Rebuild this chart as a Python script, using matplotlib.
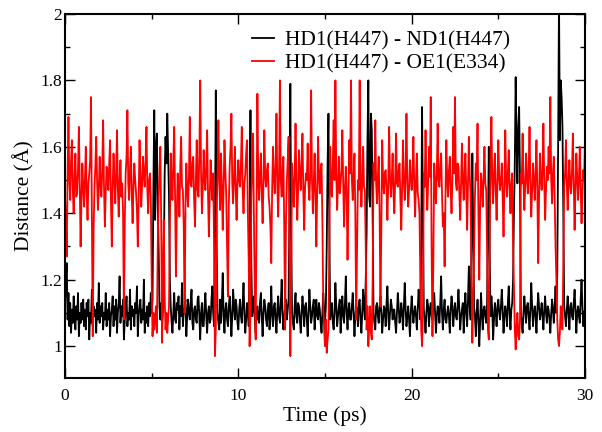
import numpy as np
import matplotlib
matplotlib.use('Agg')
import matplotlib.pyplot as plt
from matplotlib.ticker import MultipleLocator, FuncFormatter

plt.rcParams['font.family'] = ['Liberation Serif', 'DejaVu Serif']
plt.rcParams['path.simplify'] = False  # keep every zigzag, the traces are dense

# one sample every 0.05 ps, each row below is 1 ps
t_step = 0.05

# HD1(H447) - ND1(H447)
nd1 = [
    1.12, 1.20, 1.25, 1.08, 1.16, 1.06, 1.13, 1.04, 1.11, 1.07, 1.15, 1.09, 1.05, 1.12, 1.08, 1.16, 1.03, 1.10, 1.07, 1.13,
    1.08, 1.14, 1.06, 1.11, 1.05, 1.13, 1.09, 1.14, 1.02, 1.10, 1.07, 1.17, 1.06, 1.12, 1.09, 1.11, 1.04, 1.13, 1.08, 1.19,
    1.07, 1.12, 1.09, 1.13, 1.05, 1.10, 1.08, 1.16, 1.06, 1.11, 1.08, 1.13, 1.03, 1.09, 1.11, 1.15, 1.06, 1.12, 1.08, 1.14,
    1.04, 1.10, 1.13, 1.21, 1.07, 1.12, 1.09, 1.14, 1.02, 1.08, 1.11, 1.15, 1.06, 1.10, 1.08, 1.17, 1.05, 1.12, 1.09, 1.11,
    1.06, 1.13, 1.10, 1.18, 1.03, 1.09, 1.12, 1.14, 1.07, 1.11, 1.08, 1.20, 1.04, 1.10, 1.07, 1.12, 1.06, 1.13, 1.09, 1.16,
    1.10, 1.14, 1.48, 1.71, 1.38, 1.60, 1.64, 1.42, 1.30, 1.12, 1.08, 1.13, 1.06, 1.11, 1.26, 1.52, 1.63, 1.55, 1.70, 1.58,
    1.45, 1.20, 1.12, 1.07, 1.04, 1.10, 1.16, 1.08, 1.07, 1.13, 1.11, 1.15, 1.05, 1.12, 1.09, 1.19, 1.06, 1.10, 1.12, 1.14,
    1.03, 1.09, 1.14, 1.10, 1.08, 1.13, 1.17, 1.07, 1.05, 1.11, 1.12, 1.08, 1.07, 1.14, 1.15, 1.09, 1.02, 1.10, 1.13, 1.06,
    1.06, 1.12, 1.16, 1.09, 1.04, 1.10, 1.12, 1.07, 1.08, 1.14, 1.18, 1.10, 1.06, 1.35, 1.77, 1.30, 1.10, 1.07, 1.05, 1.14,
    1.07, 1.13, 1.22, 1.09, 1.04, 1.11, 1.13, 1.08, 1.06, 1.12, 1.15, 1.10, 1.03, 1.09, 1.17, 1.12, 1.08, 1.14, 1.12, 1.07,
    1.05, 1.11, 1.14, 1.09, 1.07, 1.13, 1.19, 1.10, 1.04, 1.08, 1.13, 1.11, 1.06, 1.38, 1.71, 1.25, 1.09, 1.12, 1.15, 1.08,
    1.04, 1.10, 1.12, 1.08, 1.07, 1.13, 1.16, 1.09, 1.03, 1.10, 1.14, 1.12, 1.08, 1.06, 1.11, 1.13, 1.05, 1.10, 1.18, 1.09,
    1.06, 1.12, 1.13, 1.08, 1.04, 1.11, 1.15, 1.09, 1.07, 1.13, 1.20, 1.10, 1.05, 1.09, 1.12, 1.14, 1.08, 1.11, 1.14, 1.40,
    1.79, 1.32, 1.10, 1.07, 1.05, 1.12, 1.16, 1.09, 1.07, 1.13, 1.12, 1.08, 1.04, 1.10, 1.15, 1.11, 1.06, 1.12, 1.13, 1.08,
    1.03, 1.10, 1.17, 1.12, 1.07, 1.09, 1.12, 1.14, 1.05, 1.10, 1.14, 1.09, 1.08, 1.13, 1.11, 1.07, 1.04, 1.10, 1.16, 1.11,
    1.07, 1.12, 1.30, 1.55, 1.70, 1.36, 1.08, 1.11, 1.13, 1.07, 1.05, 1.10, 1.19, 1.12, 1.06, 1.09, 1.12, 1.14, 1.04, 1.10,
    1.15, 1.09, 1.07, 1.13, 1.21, 1.10, 1.05, 1.11, 1.13, 1.08, 1.08, 1.12, 1.16, 1.10, 1.03, 1.09, 1.12, 1.11, 1.06, 1.13,
    1.14, 1.08, 1.04, 1.10, 1.17, 1.12, 1.08, 1.20, 1.34, 1.62, 1.80, 1.45, 1.42, 1.70, 1.65, 1.38, 1.10, 1.07, 1.05, 1.12,
    1.13, 1.09, 1.07, 1.12, 1.15, 1.10, 1.04, 1.08, 1.12, 1.11, 1.06, 1.13, 1.18, 1.09, 1.05, 1.10, 1.14, 1.12, 1.08, 1.11,
    1.11, 1.07, 1.04, 1.10, 1.16, 1.12, 1.07, 1.09, 1.13, 1.10, 1.05, 1.12, 1.19, 1.11, 1.06, 1.09, 1.12, 1.08, 1.03, 1.10,
    1.15, 1.11, 1.07, 1.10, 1.12, 1.09, 1.05, 1.11, 1.17, 1.13, 1.08, 1.30, 1.72, 1.40, 1.11, 1.08, 1.04, 1.10, 1.14, 1.12,
    1.06, 1.11, 1.13, 1.09, 1.08, 1.12, 1.16, 1.10, 1.04, 1.09, 1.12, 1.11, 1.07, 1.13, 1.21, 1.10, 1.05, 1.11, 1.14, 1.08,
    1.07, 1.10, 1.12, 1.09, 1.04, 1.11, 1.15, 1.12, 1.06, 1.10, 1.13, 1.09, 1.08, 1.12, 1.17, 1.11, 1.05, 1.09, 1.11, 1.13,
    1.04, 1.11, 1.16, 1.10, 1.06, 1.14, 1.24, 1.12, 1.08, 1.30, 1.58, 1.35, 1.12, 1.09, 1.03, 1.10, 1.14, 1.08, 1.00, 1.07,
    1.16, 1.10, 1.05, 1.11, 1.12, 1.09, 1.07, 1.13, 1.35, 1.60, 1.28, 1.09, 1.15, 1.11, 1.02, 1.08, 1.13, 1.10, 1.06, 1.12,
    1.14, 1.10, 1.08, 1.12, 1.17, 1.11, 1.04, 1.09, 1.12, 1.10, 1.06, 1.13, 1.18, 1.10, 1.05, 1.11, 1.13, 1.20, 1.40, 1.55,
    1.81, 1.62, 1.49, 1.66, 1.72, 1.50, 1.10, 1.07, 1.04, 1.10, 1.15, 1.11, 1.07, 1.12, 1.13, 1.09, 1.05, 1.11, 1.19, 1.12,
    1.06, 1.10, 1.12, 1.09, 1.04, 1.11, 1.16, 1.12, 1.08, 1.10, 1.13, 1.09, 1.05, 1.11, 1.15, 1.10, 1.07, 1.12, 1.11, 1.08,
    1.04, 1.10, 1.14, 1.11, 1.07, 1.12, 1.18, 1.10, 1.22, 1.60, 2.05, 1.62, 1.80, 1.75, 1.66, 1.40, 1.12, 1.09, 1.06, 1.11,
    1.15, 1.10, 1.05, 1.12, 1.13, 1.09, 1.08, 1.13, 1.17, 1.11, 1.04, 1.10, 1.12, 1.09, 1.07, 1.14, 1.20, 1.12, 1.06, 1.10,
    1.11,
]

# HD1(H447) - OE1(E334)
oe1 = [
    1.45, 1.38, 1.27, 1.52, 1.69, 1.50, 1.44, 1.56, 1.62, 1.47, 1.40, 1.51, 1.58, 1.45, 1.46, 1.53, 1.66, 1.49, 1.30, 1.44,
    1.55, 1.48, 1.42, 1.50, 1.60, 1.46, 1.38, 1.49, 1.52, 1.56, 1.75, 1.40, 1.03, 1.35, 1.48, 1.54, 1.63, 1.50, 1.41, 1.47,
    1.57, 1.49, 1.45, 1.53, 1.68, 1.48, 1.36, 1.46, 1.54, 1.51, 1.47, 1.55, 1.62, 1.44, 1.30, 1.48, 1.58, 1.50, 1.43, 1.52,
    1.65, 1.47, 1.39, 1.50, 1.56, 1.45, 1.49, 1.40, 1.08, 1.38, 1.52, 1.57, 1.71, 1.49, 1.44, 1.53, 1.60, 1.46, 1.37, 1.48,
    1.55, 1.50, 1.46, 1.41, 1.30, 1.45, 1.62, 1.52, 1.42, 1.49, 1.57, 1.51, 1.48, 1.56, 1.66, 1.47, 1.40, 1.50, 1.52, 1.45,
    1.20, 1.03, 1.10, 1.05, 1.08, 1.12, 1.04, 1.30, 1.45, 1.52, 1.60, 1.38, 1.01, 1.22, 1.38, 1.15, 1.05, 1.10, 1.04, 1.08,
    1.12, 1.35, 1.58, 1.48, 1.44, 1.56, 1.66, 1.45, 1.21, 1.40, 1.52, 1.47, 1.39, 1.54, 1.63, 1.48, 1.47, 1.36, 1.10, 1.42,
    1.55, 1.47, 1.42, 1.51, 1.69, 1.49, 1.48, 1.55, 1.57, 1.44, 1.36, 1.50, 1.62, 1.47, 1.45, 1.58, 1.80, 1.52, 1.40, 1.48,
    1.59, 1.50, 1.47, 1.54, 1.65, 1.46, 1.33, 1.45, 1.56, 1.49, 1.44, 1.52, 1.30, 0.97, 1.05, 1.40, 1.52, 1.68, 1.50, 1.41,
    1.58, 1.48, 1.35, 1.47, 1.62, 1.53, 1.46, 1.30, 1.15, 1.42, 1.54, 1.60, 1.70, 1.49, 1.43, 1.51, 1.60, 1.47, 1.38, 1.49,
    1.56, 1.50, 1.48, 1.55, 1.66, 1.47, 1.40, 1.49, 1.52, 1.58, 1.62, 1.40, 1.25, 1.00, 1.10, 1.45, 1.54, 1.64, 1.38, 1.15,
    1.02, 1.40, 1.76, 1.50, 1.44, 1.52, 1.58, 1.46, 1.37, 1.49, 1.65, 1.51, 1.48, 1.53, 1.55, 1.45, 1.42, 1.36, 1.25, 1.47,
    1.60, 1.51, 1.46, 1.54, 1.70, 1.48, 1.39, 1.52, 1.80, 1.50, 1.45, 1.53, 1.57, 1.35, 1.05, 1.38, 1.50, 1.56, 1.63, 1.30,
    0.97, 1.20, 1.55, 1.49, 1.42, 1.51, 1.67, 1.50, 1.38, 1.47, 1.59, 1.52, 1.47, 1.55, 1.64, 1.46, 1.35, 1.48, 1.52, 1.50,
    1.61, 1.48, 1.44, 1.52, 1.77, 1.50, 1.40, 1.49, 1.58, 1.45, 1.30, 1.47, 1.63, 1.51, 1.46, 1.53, 1.55, 1.38, 1.12, 1.05,
    1.00, 1.08, 0.98, 1.02, 1.05, 1.30, 1.60, 1.48, 1.45, 1.55, 1.68, 1.50, 1.80, 1.52, 1.41, 1.49, 1.57, 1.46, 1.49, 1.53,
    1.65, 1.49, 1.36, 1.47, 1.54, 1.46, 1.26, 1.44, 1.62, 1.52, 1.80, 1.50, 1.44, 1.51, 1.58, 1.40, 1.08, 1.30, 1.50, 1.47,
    1.80, 1.52, 1.42, 1.50, 1.60, 1.48, 1.47, 1.30, 1.05, 1.12, 1.00, 1.06, 1.12, 1.04, 1.02, 1.20, 1.55, 1.50, 1.68, 1.49,
    1.43, 1.51, 1.57, 1.40, 1.12, 1.35, 1.62, 1.50, 1.46, 1.52, 1.53, 1.47, 1.38, 1.49, 1.66, 1.51, 1.45, 1.50, 1.58, 1.46,
    1.40, 1.50, 1.64, 1.49, 1.48, 1.53, 1.55, 1.44, 1.35, 1.48, 1.62, 1.50, 1.44, 1.52, 1.70, 1.49, 1.42, 1.47, 1.56, 1.51,
    1.47, 1.52, 1.63, 1.48, 1.39, 1.50, 1.58, 1.46, 1.44, 1.40, 1.20, 1.05, 1.00, 1.10, 1.52, 1.48, 1.65, 1.50, 1.41, 1.49,
    1.60, 1.51, 1.75, 1.30, 1.03, 1.25, 1.55, 1.49, 1.43, 1.52, 1.67, 1.50, 1.48, 1.54, 1.58, 1.46, 1.36, 1.40, 1.24, 1.45,
    1.62, 1.50, 1.45, 1.53, 1.57, 1.47, 1.40, 1.50, 1.66, 1.52, 1.75, 1.49, 1.47, 1.55, 1.54, 1.46, 1.38, 1.49, 1.61, 1.50,
    1.44, 1.52, 1.58, 1.47, 1.35, 1.49, 1.63, 1.51, 1.46, 1.20, 1.01, 1.12, 1.28, 1.45, 1.55, 1.50, 1.67, 1.40, 1.20, 1.42,
    1.52, 1.48, 1.42, 1.51, 1.60, 1.49, 1.47, 1.30, 1.05, 1.02, 1.30, 1.56, 1.69, 1.50, 1.43, 1.52, 1.58, 1.47, 1.38, 1.49,
    1.62, 1.51, 1.47, 1.50, 1.55, 1.45, 1.33, 1.48, 1.65, 1.50, 1.45, 1.52, 1.59, 1.47, 1.40, 1.49, 1.52, 1.30, 1.18, 1.05,
    0.99, 1.06, 1.10, 1.03, 1.02, 1.08, 1.52, 1.49, 1.64, 1.50, 1.41, 1.48, 1.58, 1.51, 1.46, 1.53, 1.66, 1.48, 1.39, 1.47,
    1.55, 1.50, 1.44, 1.52, 1.62, 1.47, 1.25, 1.45, 1.58, 1.51, 1.47, 1.53, 1.67, 1.49, 1.38, 1.47, 1.54, 1.50, 1.60, 1.52,
    1.75, 1.50, 1.43, 1.52, 1.57, 1.45, 1.30, 1.20, 1.08, 1.02, 1.00, 1.04, 1.12, 1.06, 1.05, 1.25, 1.48, 1.52, 1.62, 1.49,
    1.41, 1.50, 1.56, 1.48, 1.46, 1.53, 1.64, 1.49, 1.35, 1.47, 1.58, 1.51, 1.44, 1.50, 1.60, 1.48, 1.37, 1.46, 1.53, 1.50,
    1.63,
]

labels = ['HD1(H447) - ND1(H447)', 'HD1(H447) - OE1(E334)']

t_nd1 = t_step * np.arange(len(nd1))
t_oe1 = t_step * np.arange(len(oe1))

fig = plt.figure(figsize=(6.02, 4.32), dpi=100)
ax = fig.add_axes([65 / 602, 1 - 378 / 432, 520 / 602, 364 / 432])

ax.plot(t_nd1, nd1, color='black', lw=1.3, label=labels[0])
ax.plot(t_oe1, oe1, color='red', lw=1.3, label=labels[1])

ax.set_xlim(0, 30)
ax.set_ylim(0.904, 2.0)
ax.xaxis.set_major_locator(MultipleLocator(10))
ax.xaxis.set_minor_locator(MultipleLocator(5))
ax.yaxis.set_major_locator(MultipleLocator(0.2))
ax.yaxis.set_minor_locator(MultipleLocator(0.1))
ax.yaxis.set_major_formatter(FuncFormatter(lambda v, p: '%g' % round(v, 2)))

# grace-like ticks: inside, on all four sides
ax.tick_params(which='both', direction='in', top=True, right=True, width=1.0)
ax.tick_params(which='major', length=7, labelsize=12.5)
ax.tick_params(which='minor', length=3.5)
ax.tick_params(axis='y', pad=2)
ax.tick_params(axis='x', pad=7)
for s in ax.spines.values():
    s.set_linewidth(1.5)

ax.set_xlabel('Time (ps)', fontsize=15.5, labelpad=2)
ax.set_ylabel('Distance (Å)', fontsize=15.5, labelpad=4)

leg = ax.legend(loc='upper left', bbox_to_anchor=(252 / 602, 1 - 30 / 432),
                bbox_transform=fig.transFigure, frameon=False, fontsize=15.5,
                handlelength=1.0, handletextpad=0.55, labelspacing=0.15,
                borderpad=0, borderaxespad=0)
for h in leg.get_lines():
    h.set_linewidth(1.3)

fig.savefig('out.png', dpi=100)
